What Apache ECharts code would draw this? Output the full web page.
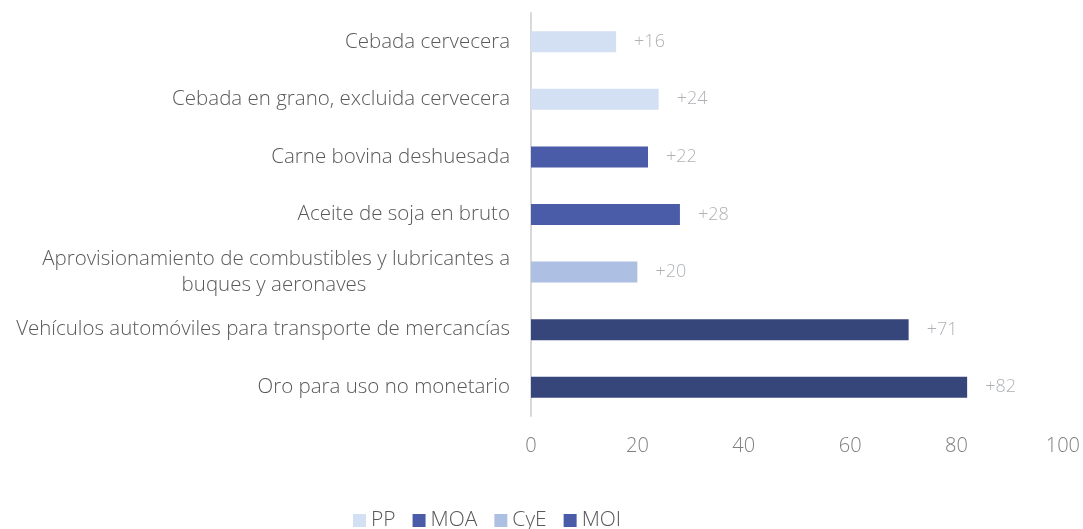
<!DOCTYPE html>
<html>
<head>
<meta charset="utf-8">
<script src="https://cdn.jsdelivr.net/npm/echarts@6/dist/echarts.min.js"></script>
<style>
  html, body { margin: 0; padding: 0; background: #fff; }
  #chart { width: 1083px; height: 529px; }
</style>
</head>
<body>
<div id="chart"></div>
<script>
// categories, top to bottom
const categories = [
  "Cebada cervecera",
  "Cebada en grano, excluida cervecera",
  "Carne bovina deshuesada",
  "Aceite de soja en bruto",
  "Aprovisionamiento de combustibles y lubricantes a\nbuques y aeronaves",
  "Vehículos automóviles para transporte de mercancías",
  "Oro para uso no monetario"
];
const values = [16, 24, 22, 28, 20, 71, 82];
const groups = ["PP", "PP", "MOA", "MOA", "CyE", "MOI", "MOI"];
const groupNames = ["PP", "MOA", "CyE", "MOI"];
const xTicks = [0, 20, 40, 60, 80, 100];
const groupColors = { PP: "#d3dff2", MOA: "#4a5ba8", CyE: "#adc0e4", MOI: "#36467b" };
// legend swatch for MOI is drawn with the MOA colour in the original
const legendColors = { PP: "#d3dff2", MOA: "#4a5ba8", CyE: "#adc0e4", MOI: "#4a5ba8" };

const font = "Open Sans";
const labelStyle = { fontFamily: font, fontWeight: 300, fontSize: 20.5, lineHeight: 26, color: "#595959" };
const chart = echarts.init(document.getElementById("chart"));

const series = groupNames.map(g => ({
  name: g,
  type: "bar",
  stack: "total",
  barWidth: 21,
  itemStyle: { color: groupColors[g] },
  label: {
    show: true,
    position: "right",
    distance: 18,
    fontFamily: font,
    fontWeight: 300,
    fontSize: 18,
    color: "#aeb1b5",
    formatter: p => "+" + p.value
  },
  data: values.map((v, i) => groups[i] === g ? v : null)
}));

chart.setOption({
  animation: false,
  grid: { left: 531, right: 20, top: 13, bottom: 113 },
  legend: {
    bottom: -7,
    left: 348,
    itemWidth: 13,
    itemHeight: 13,
    itemGap: 17,
    icon: "rect",
    textStyle: { fontFamily: font, fontWeight: 300, fontSize: 21, color: "#595959" },
    data: groupNames.map(g => ({ name: g, itemStyle: { color: legendColors[g] } }))
  },
  xAxis: {
    type: "value",
    min: xTicks[0],
    max: xTicks[xTicks.length - 1],
    interval: xTicks[1] - xTicks[0],
    splitLine: { show: false },
    axisLine: { show: false },
    axisTick: { show: false },
    axisLabel: { margin: 20, fontFamily: font, fontWeight: 300, fontSize: 20, color: "#7f7f7f" }
  },
  yAxis: {
    type: "category",
    inverse: true,
    data: categories,
    axisLine: { show: true, lineStyle: { color: "#d9d9d9", width: 2 } },
    axisTick: { show: false },
    axisLabel: Object.assign({
      margin: 21,
      align: "right",
      // wrapped label: second line centred under the first
      formatter: v => {
        if (v.indexOf("\n") < 0) return v;
        const parts = v.split("\n");
        return "{a|" + parts[0] + "}\n{b|" + parts[1] + "}";
      },
      rich: {
        a: Object.assign({ width: 472, align: "right" }, labelStyle),
        b: Object.assign({ width: 472, align: "center" }, labelStyle)
      }
    }, labelStyle)
  },
  series: series
});
</script>
</body>
</html>
